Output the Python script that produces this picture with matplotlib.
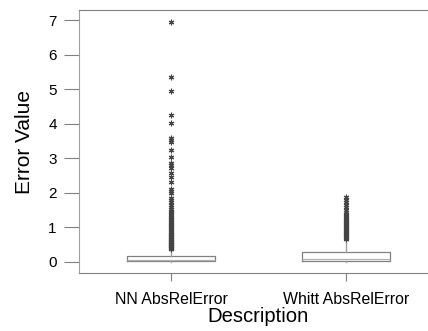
import matplotlib
matplotlib.use("Agg")
import matplotlib.pyplot as plt

plt.rcParams['font.family'] = ['Liberation Sans', 'DejaVu Sans']

categories = ["NN AbsRelError", "Whitt AbsRelError"]
q1 = [0.03, 0.03]
med = [0.07, 0.08]
q3 = [0.17, 0.29]
whislo = [0.0, 0.0]
whishi = [0.36, 0.62]

nn_fliers = [6.95, 5.36, 4.94, 4.25, 4.02, 3.58, 3.52, 3.47, 3.24, 3.05, 2.87, 2.8, 2.72,
             2.58, 2.47, 2.31, 2.1, 2.05, 2.0, 1.86, 1.8, 1.72, 1.66, 1.58, 1.52, 1.48,
             1.44, 1.4, 1.36, 1.31, 1.27, 1.24, 1.2, 1.16, 1.13, 1.1, 1.06, 1.03, 1.0,
             0.97, 0.94, 0.91, 0.88, 0.85, 0.82, 0.8, 0.77, 0.74, 0.72, 0.7, 0.67, 0.65,
             0.63, 0.61, 0.59, 0.57, 0.55, 0.53, 0.51, 0.49, 0.47, 0.45, 0.43, 0.41, 0.39,
             0.37]
whitt_fliers = [1.88, 1.8, 1.72, 1.65, 1.58, 1.5, 1.44, 1.4, 1.36, 1.32, 1.28, 1.25, 1.22,
                1.19, 1.16, 1.13, 1.1, 1.07, 1.04, 1.01, 0.98, 0.95, 0.92, 0.89, 0.86,
                0.83, 0.8, 0.77, 0.74, 0.71, 0.68, 0.65]
fliers = [nn_fliers, whitt_fliers]

stats = []
for i in range(2):
    stats.append(dict(label=categories[i], q1=q1[i], med=med[i], q3=q3[i],
                      whislo=whislo[i], whishi=whishi[i], fliers=fliers[i]))

fig = plt.figure(figsize=(4.28, 3.31), dpi=100)
ax = fig.add_axes([79/428, 1-273/331, 1-79/428, (273-10)/331])

ax.bxp(stats, positions=[1, 2], widths=0.5, showcaps=False,
       boxprops=dict(color='#808080', linewidth=0.9),
       medianprops=dict(color='#b0b0b0', linewidth=0.9),
       whiskerprops=dict(color='#a0a0a0', linewidth=1.0),
       flierprops=dict(marker=(6, 2, 0), markersize=4, markerfacecolor='#444444',
                       markeredgecolor='#444444', markeredgewidth=0.8, linestyle='none'))

ax.set_xlim(0.474, 2.469)
ax.set_ylim(-0.32, 7.29)
ax.set_yticks(range(0, 8))
ax.set_xticks([1, 2])
ax.set_xticklabels(categories)

ax.spines['right'].set_visible(False)
for s in ['top', 'bottom', 'left']:
    ax.spines[s].set_color('#808080')
ax.spines['left'].set_color('#a0a0a0')

ax.tick_params(axis='y', length=11, color='#808080', labelsize=11, pad=5)
ax.tick_params(axis='x', length=6, color='#808080', labelsize=11.4, pad=8)

ax.set_ylabel('Error Value', fontsize=15, labelpad=10)
ax.set_xlabel('Description', fontsize=14.6)
ax.xaxis.set_label_coords((258 - 79) / (428 - 79), -(307 - 273) / (273 - 10))

fig.savefig('out.png', dpi=100)
